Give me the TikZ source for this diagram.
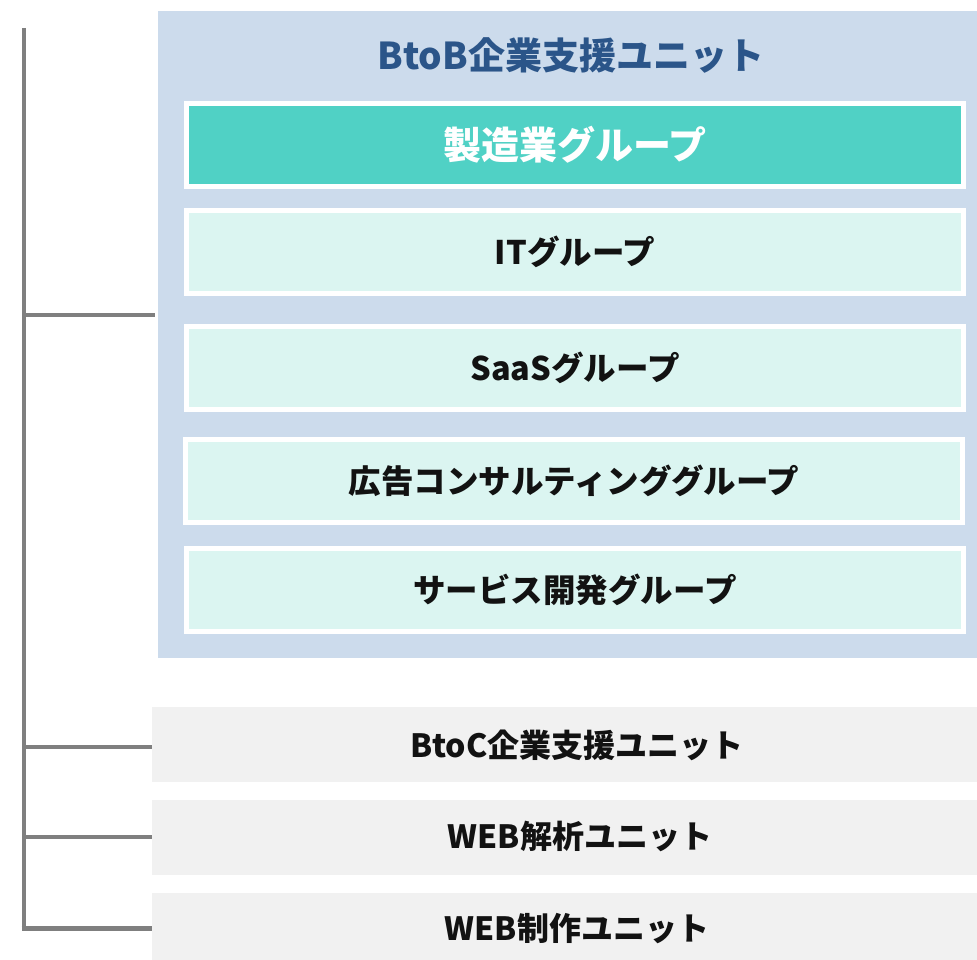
\documentclass[tikz,border=0pt]{standalone}
\usepackage{fontspec}
\setmainfont{Noto Sans CJK JP}
\definecolor{unitbg}{HTML}{CCDBEC}
\definecolor{titleblue}{HTML}{2B5589}
\definecolor{teal}{HTML}{50D1C5}
\definecolor{lightteal}{HTML}{DBF5F1}
\definecolor{greybg}{HTML}{F1F1F1}
\definecolor{linegray}{HTML}{7F7F7F}
\begin{document}
\begin{tikzpicture}[x=1pt,y=-1pt,
  grp/.style={draw=white,line width=5pt,fill=lightteal,minimum width=777pt,minimum height=83pt,inner sep=0pt,
    font=\fontsize{32.5}{38}\selectfont\bfseries,text=black!93},
  mgrp/.style={grp,fill=teal,text=white,font=\fontsize{38}{44}\selectfont\bfseries},
  unitbox/.style={fill=greybg,minimum width=825pt,minimum height=75pt,inner sep=0pt},
  unittext/.style={font=\fontsize{32}{38}\selectfont\bfseries,text=black!93,inner sep=0pt},
  conn/.style={draw=linegray,line width=4.8pt}]
\useasboundingbox (0,0) rectangle (977,960);
\node[fill=unitbg,minimum width=819pt,minimum height=647pt,inner sep=0pt] (bbox) at (567.5,334.5) {};
\node[text=titleblue,font=\fontsize{37}{44}\selectfont\bfseries] (title) at (571,55) {BtoB企業支援ユニット};
\node[mgrp] (g1) at (575,145) {製造業グループ};
\node[grp] (g2) at (575,252) {ITグループ};
\node[grp] (g3) at (575,368) {SaaSグループ};
\node[grp] (g4) at (574,481) {広告コンサルティンググループ};
\node[grp] (g5) at (575,589.5) {サービス開発グループ};
\node[unitbox] (u1) at (564.5,744.5) {};
\node[unitbox] (u2) at (564.5,837.5) {};
\begin{scope}
\clip (0,0) rectangle (977,960);
\node[unitbox] (u3) at (564.5,930.5) {};
\end{scope}
\node[unittext] (t1) at (577,745) {BtoC企業支援ユニット};
\node[unittext] (t2) at (580,836) {WEB解析ユニット};
\node[unittext] (t3) at (577,929) {WEB制作ユニット};
\coordinate (top) at (24,28);
\coordinate (j0) at (24,315);
\coordinate (j1) at (24,747);
\coordinate (j2) at (24,837);
\coordinate (j3) at (24,928.2);
\draw[conn] (top) -- (j3);
\draw[conn] (j0) -- ([xshift=-3pt]bbox.west |- j0);
\draw[conn] (j1) -- (u1.west |- j1);
\draw[conn] (j2) -- (u2.west |- j2);
\draw[conn] ([xshift=-2.4pt]j3) -- (u3.west |- j3);
\end{tikzpicture}
\end{document}
